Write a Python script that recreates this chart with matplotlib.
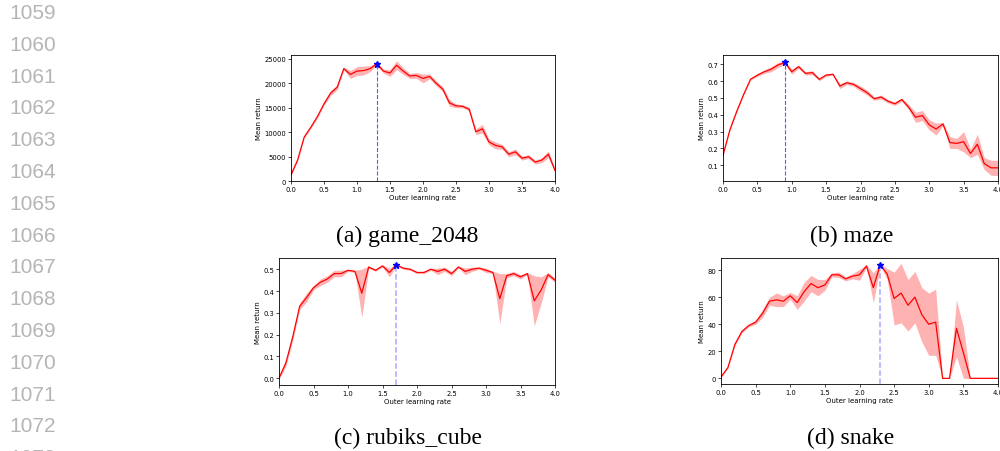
import numpy as np
import matplotlib.pyplot as plt

lr = np.round(np.arange(0, 4.01, 0.1), 1)

game_mean = [1300, 4300, 9000, 11000, 13200, 15800, 18000, 19200, 23000, 21800,
             22500, 22600, 23000, 24000, 22500, 22100, 23700, 22500, 21500, 21600,
             21000, 21400, 20000, 18800, 16000, 15400, 15300, 14700, 10100, 10700,
             8000, 7300, 7000, 5500, 6000, 4700, 5000, 3900, 4300, 5500, 2200]
game_std = [200, 200, 200, 200, 300, 300, 500, 500, 300, 800,
            900, 900, 600, 300, 400, 700, 900, 700, 500, 600,
            900, 500, 500, 500, 700, 400, 300, 400, 600, 900,
            600, 700, 500, 500, 600, 400, 400, 400, 500, 700, 400]

maze_mean = [0.16, 0.31, 0.42, 0.52, 0.61, 0.635, 0.655, 0.67, 0.695, 0.71,
             0.655, 0.685, 0.645, 0.65, 0.61, 0.635, 0.64, 0.57, 0.59, 0.58,
             0.555, 0.53, 0.495, 0.505, 0.48, 0.465, 0.49, 0.445, 0.385, 0.395,
             0.34, 0.315, 0.345, 0.235, 0.23, 0.24, 0.17, 0.225, 0.11, 0.085, 0.085]
maze_std = [0.005, 0.005, 0.005, 0.005, 0.005, 0.008, 0.01, 0.015, 0.015, 0.01,
            0.015, 0.01, 0.01, 0.012, 0.008, 0.008, 0.005, 0.015, 0.01, 0.012,
            0.015, 0.015, 0.01, 0.012, 0.01, 0.01, 0.01, 0.015, 0.03, 0.03,
            0.03, 0.035, 0.01, 0.035, 0.03, 0.06, 0.025, 0.06, 0.035, 0.045, 0.045]

rubiks_mean = [0.0, 0.07, 0.19, 0.33, 0.37, 0.415, 0.44, 0.455, 0.48, 0.48,
               0.495, 0.49, 0.39, 0.51, 0.495, 0.515, 0.485, 0.52, 0.505, 0.5,
               0.485, 0.485, 0.5, 0.49, 0.5, 0.48, 0.51, 0.49, 0.5, 0.505,
               0.495, 0.485, 0.365, 0.47, 0.48, 0.465, 0.48, 0.355, 0.405, 0.475, 0.45]
rubiks_std = [0.005, 0.015, 0.015, 0.015, 0.02, 0.01, 0.015, 0.015, 0.015, 0.015,
              0.005, 0.005, 0.11, 0.005, 0.005, 0.005, 0.02, 0.005, 0.005, 0.005,
              0.005, 0.005, 0.005, 0.015, 0.01, 0.01, 0.005, 0.015, 0.01, 0.005,
              0.01, 0.005, 0.115, 0.01, 0.01, 0.01, 0.005, 0.115, 0.06, 0.01, 0.01]

snake_mean = [1, 8, 25, 34.5, 39, 41.5, 48, 57, 58, 57,
              61, 56, 64, 70, 67, 69, 76.5, 76.5, 73.5, 75.5,
              76.5, 83, 67, 84, 77, 59, 63, 54, 60, 47,
              40, 41.5, 0, 0, 37, 19, 0, 0, 0, 0, 0]
snake_std = [0.5, 0.5, 1, 1, 1, 1.5, 3, 3, 5, 4,
             2.5, 5, 7, 6, 6, 4, 1.5, 2, 1.5, 2,
             4, 1, 11, 1, 4, 19.5, 22, 19, 19, 20,
             23, 24.5, 0, 0, 21, 19, 0, 0, 0, 0, 0]

panels = [
    ("(a) game_2048", game_mean, game_std, [0.291, 0.597, 0.264, 0.279], True),
    ("(b) maze", maze_mean, maze_std, [0.723, 0.597, 0.275, 0.279], False),
    ("(c) rubiks_cube", rubiks_mean, rubiks_std, [0.279, 0.146, 0.276, 0.281], False),
    ("(d) snake", snake_mean, snake_std, [0.721, 0.148, 0.277, 0.280], False),
]
caption_pos = [(0.407, 1 - 242.5 / 452), (0.852, 1 - 242.5 / 452),
               (0.408, 1 - 444 / 452), (0.851, 1 - 444 / 452)]
# the peak marker line renders thin/dark in the top row, thick/pale below
vline_style = [('#5a5aff', 0.8), ('#5a5aff', 0.8), ('#a8a8ff', 1.1), ('#a8a8ff', 1.1)]

fig = plt.figure(figsize=(10, 4.52), dpi=100)

for (title, mean, std, rect, zero_bottom), (cx, cy), (vc, vw) in zip(panels, caption_pos, vline_style):
    mean = np.array(mean)
    std = np.array(std)
    ax = fig.add_axes(rect)
    ax.fill_between(lr, mean - std, mean + std, color='red', alpha=0.3, lw=0)
    ax.plot(lr, mean, color='red', lw=0.9)
    ax.set_xlim(0, 4.0)
    lo, hi = ax.get_ylim()
    if zero_bottom:
        lo = 0
    ax.set_ylim(lo, hi)
    best = np.argmax(mean)
    ax.vlines(lr[best], lo, mean[best], colors=vc, linestyles='--', lw=vw)
    ax.plot(lr[best], mean[best], '*', color='blue', markersize=5)
    ax.set_xlabel("Outer learning rate", fontsize=5, labelpad=1.5)
    ax.set_ylabel("Mean return", fontsize=5, labelpad=1.5)
    ax.tick_params(labelsize=4.9, length=2, width=0.5, pad=1.5)
    for s in ax.spines.values():
        s.set_linewidth(0.6)
    fig.text(cx, cy, title, ha='center', va='baseline', fontsize=17,
             family='Liberation Serif')

# line numbers down the left margin
line_numbers = list(range(1059, 1074))
for i, n in enumerate(line_numbers):
    fig.text(9 / 1000, 1 - (19 + 31.8 * i) / 452, str(n), ha='left', va='baseline',
             fontsize=15, color='#b5b5b5', family='Liberation Sans')

fig.savefig("out.png", dpi=100)
